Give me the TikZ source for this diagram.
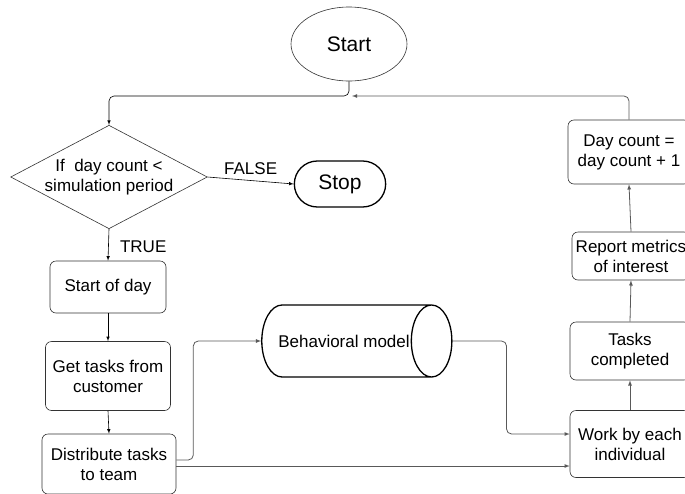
\documentclass[tikz,border=0pt]{standalone}
\usepackage{fontspec}
\setmainfont{Liberation Sans}
\usepackage{tikz}
\usetikzlibrary{shapes.geometric, shapes.misc, arrows, positioning, calc}

\begin{document}
\begin{tikzpicture}[x=1pt,y=-1pt,
    font=\fontsize{17}{20}\selectfont,
    box/.style={rectangle,draw=black!80,rounded corners=6pt,line width=0.6pt,align=center,inner sep=1pt},
    flow/.style={-latex,line width=0.6pt,rounded corners=5pt},
    grayflow/.style={-latex,line width=0.8pt,draw=black!65,rounded corners=5pt}]
    \useasboundingbox (0,0) rectangle (685,493);

    % Inizio e condizione
    \node[ellipse,draw=black!80,line width=0.6pt,minimum width=116pt,minimum height=74pt,font=\fontsize{21}{24}\selectfont] (start) at (349,44) {Start};
    \node[diamond,draw=black!80,line width=0.6pt,aspect=1.9,inner sep=0pt,minimum width=192pt,minimum height=102pt,align=center] (cond) at (109,177) {If~~day count <\\simulation period};
    \node[rounded rectangle,draw=black,line width=1.3pt,minimum width=98pt,minimum height=46pt,font=\fontsize{21}{24}\selectfont] (stop) at (340,184) {Stop};
    \coordinate (merge) at (349,96);

    % Colonna sinistra
    \node[box,minimum width=116pt,minimum height=52pt] (startday) at (108,287) {Start of day};
    \node[box,minimum width=125pt,minimum height=69pt] (gettasks) at (108,376) {Get tasks from\\customer};
    \node[box,minimum width=134pt,minimum height=60pt] (distribute) at (109,464) {Distribute tasks\\to team};

    % Modello
    \node[cylinder,draw=black,line width=1.3pt,aspect=2.8,inner sep=1pt,minimum height=187pt,minimum width=72pt] (model) at (344,341) {Behavioral model};

    % Colonna destra
    \node[box,minimum width=120pt,minimum height=67pt] (work) at (630,444) {Work by each\\individual};
    \node[box,minimum width=120pt,minimum height=58pt] (completed) at (630,351) {Tasks\\completed};
    \node[box,minimum width=118pt,minimum height=48pt] (report) at (631,256) {Report metrics\\of interest};
    \node[box,minimum width=122pt,minimum height=64pt] (daycount) at (629,152) {Day count =\\day count + 1};

    % Connessioni
    \draw[flow] (start.south) -- (merge) -| (cond.north);
    \draw[grayflow] (daycount.north) |- ([xshift=3pt]merge);
    \draw[flow] (cond.east) -- node[above=2pt] {FALSE} (stop.west);
    \draw[flow] (cond.south) -- node[right=8pt,pos=0.55] {TRUE} (startday.north);
    \draw[flow] (startday.south) -- (gettasks.north);
    \draw[flow] (gettasks.south) -- (distribute.north);
    \draw[grayflow] ([yshift=4pt]distribute.east) -- ++(17,0) |- (model.west);
    \draw[grayflow] ([yshift=-2pt]distribute.east) -- ([yshift=-2pt]distribute.east -| work.west);
    \draw[grayflow] (model.east) -- ++(54,0) |- ([yshift=10pt]work.west);
    \draw[grayflow] (work.north) -- (completed.south);
    \draw[grayflow] (completed.north) -- (report.south);
    \draw[grayflow] (report.north) -- (daycount.south);
\end{tikzpicture}
\end{document}
